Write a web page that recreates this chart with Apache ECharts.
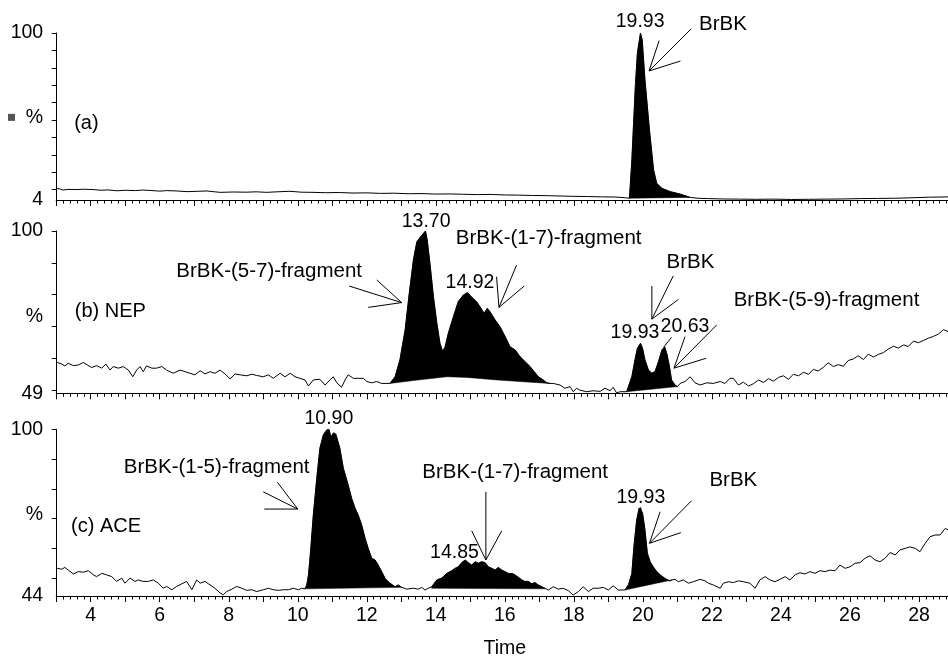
<!DOCTYPE html>
<html><head><meta charset="utf-8">
<script src="https://cdn.jsdelivr.net/npm/echarts@6/dist/echarts.min.js"></script>
<style>html,body{margin:0;padding:0;background:#fff}#c{width:948px;height:657px}</style>
</head><body><div id="c"></div>
<script>
// ---------------- data ----------------
const xTickLabels = [4, 6, 8, 10, 12, 14, 16, 18, 20, 22, 24, 26, 28];
const panelMins = [4, 49, 44];
const yTicksA = [10, 20, 30, 40, 50, 60, 70, 80, 90, 100];
const yTicksB = [50, 60, 70, 80, 90, 100];
const yTicksC = [50, 60, 70, 80, 90, 100];
const percentPos = [51.5, 73.1, 71.2];

const traceA = [[3.0,10.7],[3.1,10.4],[3.2,9.7],[3.34,10.1],[3.6,10.0],[3.8,10.2],[4.07,10.0],[4.3,9.6],[4.5,9.8],[4.76,9.3],[5.0,9.6],[5.3,9.4],[5.5,9.7],[5.72,9.5],[6.0,9.1],[6.2,9.4],[6.5,9.2],[6.79,8.8],[7.1,9.0],[7.37,9.2],[7.55,8.8],[7.75,8.4],[8.13,8.6],[8.5,8.5],[8.8,8.7],[9.1,8.4],[9.4,8.7],[9.77,9.0],[10.1,8.5],[10.44,8.4],[10.8,8.2],[11.2,8.3],[11.6,8.0],[12.0,8.1],[12.4,7.8],[12.8,7.9],[13.2,7.6],[13.6,7.7],[14.0,7.4],[14.4,7.5],[14.8,7.3],[15.2,7.1],[15.6,7.2],[16.0,6.9],[16.4,6.8],[16.8,6.6],[17.2,6.5],[17.6,6.3],[18.0,6.1],[18.4,6.0],[18.8,5.8],[19.2,5.7],[19.5,5.3],[19.61,5.0],[19.68,27.0],[19.78,69.1],[19.84,88.3],[19.93,100],[19.98,96.0],[20.06,73.0],[20.19,44.2],[20.31,21.2],[20.40,13.6],[20.55,10.7],[20.79,8.8],[21.08,7.4],[21.37,5.5],[21.6,5.0],[21.9,4.8],[22.3,4.6],[22.8,4.5],[23.3,4.4],[23.8,4.5],[24.3,4.3],[24.8,4.4],[25.3,4.5],[25.8,4.6],[26.3,4.8],[26.8,4.9],[27.3,5.0],[27.8,5.3],[28.3,5.6],[28.9,5.8]];

const traceB = [[3.03,58.7],[3.16,58.2],[3.25,57.6],[3.35,58.4],[3.50,57.7],[3.64,57.9],[3.79,58.7],[3.90,57.9],[4.03,57.1],[4.17,57.7],[4.32,56.9],[4.44,58.2],[4.56,56.3],[4.65,57.4],[4.80,56.9],[4.94,57.4],[5.09,56.3],[5.22,54.2],[5.33,56.3],[5.43,57.4],[5.52,55.8],[5.62,57.6],[5.77,56.9],[5.91,56.9],[6.06,57.4],[6.20,56.3],[6.39,55.3],[6.59,56.3],[6.73,55.8],[6.88,55.3],[7.02,54.8],[7.17,56.1],[7.31,55.1],[7.46,55.8],[7.60,55.3],[7.75,56.3],[7.89,55.1],[8.04,53.5],[8.18,55.1],[8.33,54.8],[8.52,54.5],[8.67,55.0],[8.81,54.6],[9.00,54.2],[9.15,54.8],[9.29,53.7],[9.49,55.3],[9.63,54.2],[9.78,55.3],[9.92,54.2],[10.06,53.7],[10.21,53.2],[10.31,51.3],[10.45,53.2],[10.50,52.7],[10.64,53.4],[10.79,51.6],[10.93,53.2],[11.03,54.2],[11.13,52.3],[11.27,50.9],[11.37,53.2],[11.46,54.8],[11.61,53.7],[11.75,53.7],[11.90,53.7],[12.00,52.7],[12.14,52.3],[12.29,52.7],[12.43,52.1],[12.56,52.1],[12.67,52.1],[12.82,54.2],[12.96,59.5],[13.11,68.9],[13.23,80.4],[13.35,90.9],[13.45,96.6],[13.56,98.2],[13.70,100],[13.75,97.2],[13.83,89.8],[13.93,79.4],[14.03,71.0],[14.12,64.7],[14.20,62.1],[14.27,63.6],[14.36,67.8],[14.51,73.1],[14.65,77.8],[14.80,79.9],[14.92,80.6],[15.04,79.2],[15.18,77.8],[15.28,76.2],[15.40,74.1],[15.49,75.7],[15.57,74.6],[15.72,72.0],[15.86,69.9],[16.01,66.8],[16.15,63.6],[16.30,62.6],[16.44,60.5],[16.59,58.9],[16.73,57.4],[16.85,55.8],[16.97,54.2],[17.11,53.2],[17.21,52.3],[17.31,52.1],[17.40,52.1],[17.60,51.6],[17.74,50.6],[17.89,51.1],[17.98,49.5],[18.08,50.6],[18.17,50.0],[18.37,49.5],[18.56,49.8],[18.76,49.6],[18.90,50.6],[19.05,49.8],[19.14,50.9],[19.24,49.1],[19.34,49.5],[19.53,49.5],[19.68,54.2],[19.77,59.5],[19.84,63.1],[19.93,64.7],[19.99,63.1],[20.06,59.5],[20.16,56.3],[20.26,55.3],[20.35,55.8],[20.45,58.9],[20.55,62.6],[20.63,63.6],[20.69,61.6],[20.77,57.4],[20.83,53.2],[20.93,51.6],[21.00,51.1],[21.08,52.1],[21.22,52.7],[21.37,54.2],[21.51,52.3],[21.66,51.6],[21.85,52.3],[22.04,52.1],[22.24,52.7],[22.38,52.1],[22.52,53.7],[22.62,53.7],[22.77,51.6],[22.91,52.5],[23.06,51.3],[23.20,52.0],[23.35,53.2],[23.49,52.4],[23.64,53.6],[23.78,52.8],[23.93,54.0],[24.07,54.5],[24.22,53.4],[24.36,55.0],[24.51,54.5],[24.65,55.6],[24.80,55.0],[24.94,56.5],[25.08,56.0],[25.23,57.2],[25.37,58.6],[25.52,57.4],[25.66,58.0],[25.81,57.5],[25.95,59.3],[26.10,59.8],[26.24,60.8],[26.39,59.6],[26.53,61.3],[26.68,60.4],[26.82,61.2],[26.97,61.8],[27.11,62.9],[27.26,63.8],[27.40,63.2],[27.55,64.2],[27.69,63.7],[27.84,65.4],[27.98,64.9],[28.13,65.6],[28.27,66.3],[28.42,66.9],[28.56,67.6],[28.71,69.0],[28.84,68.4],[28.9,68.6]];

const traceC = [[3.03,53.3],[3.16,53.0],[3.25,53.6],[3.35,52.7],[3.50,51.4],[3.64,52.2],[3.79,52.0],[3.93,52.5],[4.08,51.1],[4.17,50.5],[4.32,51.6],[4.46,51.1],[4.61,50.5],[4.75,48.9],[4.90,50.0],[4.99,48.3],[5.14,50.0],[5.28,48.9],[5.38,49.4],[5.52,48.9],[5.67,48.9],[5.81,49.4],[5.96,48.3],[6.10,46.6],[6.20,47.2],[6.35,46.1],[6.49,47.2],[6.64,48.1],[6.78,48.9],[6.93,46.1],[7.07,49.4],[7.17,48.3],[7.31,48.9],[7.46,47.7],[7.60,46.6],[7.75,45.0],[7.84,44.4],[7.94,45.5],[8.09,46.3],[8.23,47.2],[8.38,46.6],[8.52,45.9],[8.67,46.1],[8.81,45.5],[9.00,46.1],[9.15,46.6],[9.29,46.1],[9.44,45.9],[9.58,46.1],[9.73,46.1],[9.87,46.6],[10.02,46.1],[10.11,46.6],[10.21,46.4],[10.26,47.7],[10.31,51.1],[10.37,58.9],[10.45,71.2],[10.55,83.5],[10.64,93.6],[10.74,98.1],[10.84,99.8],[10.90,100],[10.96,97.5],[11.04,98.8],[11.10,98.4],[11.22,93.6],[11.32,86.9],[11.46,81.3],[11.56,76.8],[11.66,73.5],[11.75,71.2],[11.85,67.9],[11.95,63.4],[12.04,60.0],[12.14,56.7],[12.24,56.1],[12.33,54.4],[12.43,52.2],[12.53,49.9],[12.62,48.8],[12.72,47.9],[12.82,47.1],[12.91,47.7],[13.01,46.9],[13.16,46.3],[13.35,46.6],[13.49,46.3],[13.59,46.9],[13.69,46.0],[13.78,46.6],[13.88,47.1],[14.03,49.4],[14.17,50.0],[14.32,51.6],[14.46,52.5],[14.56,53.3],[14.65,53.8],[14.75,55.2],[14.85,56.1],[14.94,55.2],[15.04,54.4],[15.14,55.5],[15.23,55.0],[15.33,55.5],[15.43,55.2],[15.52,53.8],[15.62,53.3],[15.72,52.7],[15.81,53.6],[15.91,52.7],[16.00,52.2],[16.10,51.6],[16.25,51.4],[16.39,50.3],[16.49,49.4],[16.58,48.9],[16.68,48.9],[16.78,48.1],[16.87,48.5],[16.97,47.7],[17.07,47.1],[17.16,46.6],[17.26,46.0],[17.40,47.1],[17.55,46.3],[17.69,46.6],[17.84,45.8],[17.98,44.3],[18.13,45.5],[18.27,47.1],[18.42,45.5],[18.56,46.6],[18.71,46.6],[18.85,46.9],[19.00,46.0],[19.14,47.4],[19.29,46.0],[19.34,45.8],[19.48,46.0],[19.58,47.7],[19.68,51.6],[19.74,60.6],[19.82,69.5],[19.89,73.5],[19.94,73.7],[19.99,71.8],[20.06,66.2],[20.13,58.3],[20.21,55.5],[20.30,53.8],[20.40,52.2],[20.50,51.1],[20.64,49.9],[20.77,49.1],[20.84,49.4],[20.93,49.6],[21.03,48.8],[21.17,49.4],[21.32,48.3],[21.46,48.8],[21.66,49.6],[21.80,49.1],[21.90,48.3],[22.04,47.7],[22.24,46.6],[22.33,48.3],[22.48,48.8],[22.62,48.5],[22.77,49.1],[22.91,48.8],[23.10,48.3],[23.25,46.6],[23.39,49.4],[23.54,50.5],[23.68,49.4],[23.83,48.8],[23.97,49.6],[24.12,50.5],[24.26,49.4],[24.41,51.1],[24.55,51.8],[24.70,51.4],[24.84,52.2],[24.99,51.6],[25.13,52.5],[25.28,52.2],[25.42,52.7],[25.57,52.5],[25.71,54.4],[25.86,53.3],[26.00,53.8],[26.15,55.0],[26.29,55.2],[26.44,56.7],[26.58,57.5],[26.73,56.1],[26.87,55.5],[27.02,56.7],[27.16,58.6],[27.31,57.8],[27.45,59.5],[27.60,60.0],[27.74,60.5],[27.89,60.0],[28.03,58.9],[28.18,61.7],[28.32,63.9],[28.47,64.5],[28.61,64.5],[28.76,66.7],[28.84,66.2],[28.9,66.3]];

// integration baselines of the filled peaks: [time, intensity] polylines
const fillsA = [[[19.61,5.0],[21.37,5.5]]];
const fillsB = [[[12.67,52.1],[13.35,53.0],[14.32,54.2],[14.90,54.0],[15.77,53.2],[16.54,52.6],[17.31,52.1]],
                [[19.53,49.5],[21.00,51.1]]];
const fillsC = [[[10.21,46.4],[13.01,46.9]], [[13.88,46.6],[17.16,46.4]], [[19.48,46.0],[20.84,49.4]]];

// annotations in data coordinates
const panelTitles = ['(a)', '(b) NEP', '(c) ACE'];
const panelTitlePos = [[3.52,47.7],[3.54,74.7],[3.43,67.5]];
const textsA = [['19.93',[19.92,106.6]],['BrBK',[22.32,105.2]]];
const textsB = [['13.70',[13.72,103.1]],['BrBK-(5-7)-fragment',[9.17,87.3]],['BrBK-(1-7)-fragment',[17.27,97.8]],['14.92',[14.99,83.7]],['BrBK',[21.38,90.1]],['19.93',[19.77,68.0]],['20.63',[21.22,70.0]],['BrBK-(5-9)-fragment',[25.32,78.2]]];
const textsC = [['10.90',[10.90,103.6]],['BrBK-(1-5)-fragment',[7.65,87.2]],['BrBK-(1-7)-fragment',[16.30,85.5]],['14.85',[14.54,58.6]],['19.93',[19.94,77.1]],['BrBK',[22.62,82.7]]];
const arrowsA = [[[20.18,78.2],[[21.40,102.4],[20.47,95.6],[21.09,83.9]]]];
const arrowsB = [[[13.01,77.5],[[11.49,82.7],[12.29,84.6],[12.04,76.0]]],
                 [[15.83,76.0],[[15.76,85.6],[16.34,89.3],[16.56,82.7]]],
                 [[20.26,72.3],[[20.26,82.7],[20.88,85.9],[21.03,78.5]]],
                 [[20.90,56.9],[[22.14,70.5],[21.22,66.8],[21.83,60.0]]],
                 [[20.61,63.6],[[20.83,66.6]]]];
const arrowsC = [[[10.0,73.2],[[9.41,82.2],[9.0,79.0],[9.03,73.2]]],
                 [[15.45,56.1],[[15.45,79.0],[15.04,65.9],[15.91,65.9]]],
                 [[20.19,61.7],[[21.41,76.0],[20.50,72.3],[21.10,65.3]]]];

// ---------------- chart ----------------
const FONT = '"Liberation Sans", Arial, Helvetica, sans-serif';
const FS = 19.5;       // numbers / tick labels
const FS_WORD = 20.5;  // word annotations
const FS_TITLE = 20;   // panel titles
const traces = [traceA, traceB, traceC];
const fills = [fillsA, fillsB, fillsC];
const yTicks = [yTicksA, yTicksB, yTicksC];
const texts = [textsA, textsB, textsC];
const arrows = [arrowsA, arrowsB, arrowsC];

const chart = echarts.init(document.getElementById('c'), null, {renderer: 'canvas'});

const gridLayout = [{top: 33, height: 167}, {top: 231, height: 162.3}, {top: 429.3, height: 166.7}];
const grids = gridLayout.map(g => ({left: 56.2, width: 897.3, top: g.top, height: g.height, outerBoundsMode: 'none', containLabel: false}));

const xAxes = [0,1,2].map(i => ({
  gridIndex: i, type: 'value', min: 3, max: 29, interval: 1,
  axisLine: {show: true, onZero: false, lineStyle: {color: '#000', width: 1}},
  axisTick: {show: true, length: 6, lineStyle: {color: '#000', width: 1}},
  minorTick: {show: true, splitNumber: 5, length: 3.5, lineStyle: {color: '#000', width: 1}},
  splitLine: {show: false}, minorSplitLine: {show: false},
  axisLabel: i === 2 ? {show: true, customValues: xTickLabels, margin: 10, color: '#000', fontSize: FS, fontFamily: FONT, formatter: v => String(v)} : {show: false},
  name: i === 2 ? 'Time' : '', nameLocation: 'middle', nameGap: 43,
  nameTextStyle: {color: '#000', fontSize: FS, fontFamily: FONT}
}));

const yAxes = [0,1,2].map(i => ({
  gridIndex: i, type: 'value', min: panelMins[i], max: 100,
  axisLine: {show: true, onZero: false, lineStyle: {color: '#000', width: 1}},
  axisTick: {show: true, length: 4.5, customValues: yTicks[i], lineStyle: {color: '#000', width: 1}},
  splitLine: {show: false},
  axisLabel: {
    show: true, customValues: [panelMins[i], percentPos[i], 100], margin: 13,
    color: '#000', fontSize: FS, fontFamily: FONT,
    formatter: v => (v === percentPos[i] ? (i === 0 ? '{sq|}  %' : '%') : String(v)),
    rich: {sq: {width: 7, height: 7, backgroundColor: '#555'}}
  }
}));

function fillRenderer(trace, fl) {
  return function (params, api) {
    const f = fl[params.dataIndex];
    const x0 = f[0][0], x1 = f[f.length - 1][0];
    const pts = [];
    trace.forEach(p => { if (p[0] >= x0 - 1e-9 && p[0] <= x1 + 1e-9) pts.push(api.coord(p)); });
    for (let k = f.length - 1; k >= 0; k--) pts.push(api.coord(f[k]));
    return {type: 'polygon', shape: {points: pts}, style: {fill: '#000', stroke: '#000', lineWidth: 0.5}, silent: true};
  };
}

const series = [];
[0,1,2].forEach(i => {
  series.push({
    type: 'custom', xAxisIndex: i, yAxisIndex: i, z: 2,
    data: fills[i].map(f => [f[0][0], f[0][1]]),
    renderItem: fillRenderer(traces[i], fills[i]),
    animation: false, silent: true
  });
  series.push({
    type: 'line', xAxisIndex: i, yAxisIndex: i, z: 3,
    data: traces[i], showSymbol: false, symbol: 'none',
    lineStyle: {color: '#000', width: 1}, animation: false, silent: true
  });
});

chart.setOption({
  backgroundColor: '#fff',
  animation: false,
  grid: grids, xAxis: xAxes, yAxis: yAxes, series: series
});

// annotations
const graphics = [];
[0,1,2].forEach(i => {
  const toPx = p => chart.convertToPixel({gridIndex: i}, p);
  const tp = toPx(panelTitlePos[i]);
  graphics.push({type: 'text', x: tp[0], y: tp[1], silent: true,
    style: {text: panelTitles[i], fill: '#000', fontSize: FS_TITLE, fontFamily: FONT, align: 'left', verticalAlign: 'middle'}});
  texts[i].forEach(t => {
    const p = toPx(t[1]);
    const isNum = /^[0-9.]+$/.test(t[0]);
    graphics.push({type: 'text', x: p[0], y: p[1], silent: true,
      style: {text: t[0], fill: '#000', fontSize: isNum ? FS : FS_WORD, fontFamily: FONT, align: 'center', verticalAlign: 'middle'}});
  });
  arrows[i].forEach(a => {
    const tip = toPx(a[0]);
    a[1].forEach(e => {
      const q = toPx(e);
      graphics.push({type: 'line', silent: true, shape: {x1: tip[0], y1: tip[1], x2: q[0], y2: q[1]},
        style: {stroke: '#000', lineWidth: 1}});
    });
  });
});
chart.setOption({graphic: graphics});
</script>
</body></html>
